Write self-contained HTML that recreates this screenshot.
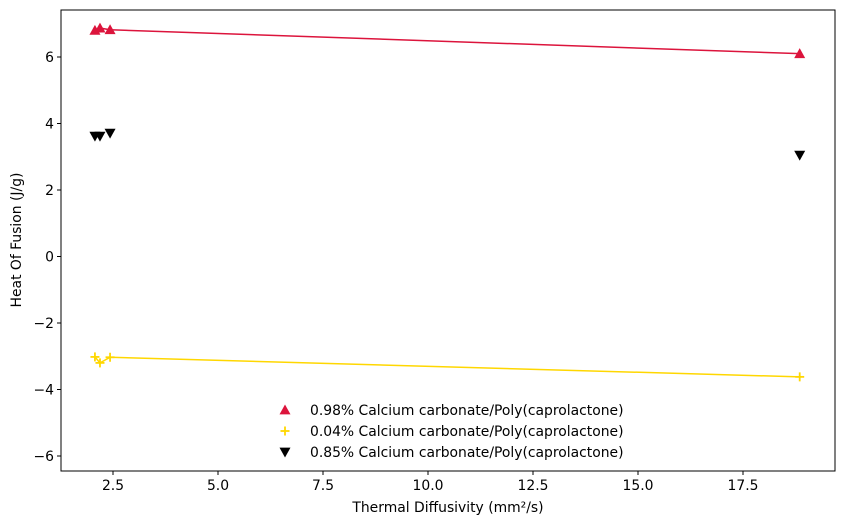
<!DOCTYPE html>
<html><head><meta charset="utf-8"><style>
body{margin:0;background:#fff;font-family:"Liberation Sans","DejaVu Sans",sans-serif;}
svg text{font-family:"DejaVu Sans","Liberation Sans",sans-serif;}
</style></head><body>
<svg id="c" width="844" height="525" xmlns="http://www.w3.org/2000/svg"></svg>
<script>
const xVals=[2.07,2.19,2.43,18.85];
const redVals=[6.8,6.87,6.82,6.1];
const yellowVals=[-3.02,-3.2,-3.03,-3.62];
const blackVals=[3.62,3.62,3.71,3.05];
const xTicks=[2.5,5.0,7.5,10.0,12.5,15.0,17.5];
const yTicks=[-6,-4,-2,0,2,4,6];
const legendLabels=["0.98% Calcium carbonate/Poly(caprolactone)","0.04% Calcium carbonate/Poly(caprolactone)","0.85% Calcium carbonate/Poly(caprolactone)"];
const L=61,R=835,T=10,B=471;
const FS=13.9;
const X=v=>8+42*v;
const Y=v=>256.5-33.25*v;
const NS="http://www.w3.org/2000/svg";
const svg=document.getElementById('c');
function mk(t,a,p){const e=document.createElementNS(NS,t);for(const k in a)e.setAttribute(k,a[k]);(p||svg).appendChild(e);return e;}
const frame=mk('rect',{x:L,y:T,width:R-L,height:B-T,fill:'none',stroke:'#000','stroke-width':1});


xTicks.forEach(v=>{
 const g=mk('g',{});
 
 
 mk('line',{x1:X(v),x2:X(v),y1:B,y2:B+4,stroke:'#000'},g);
 const t=mk('text',{x:X(v),y:B+19,'text-anchor':'middle','font-size':FS},g);t.textContent=v.toFixed(1);
});
yTicks.forEach(v=>{
 const g=mk('g',{});
 
 
 mk('line',{x1:L-4,x2:L,y1:Y(v),y2:Y(v),stroke:'#000'},g);
 const t=mk('text',{x:L-7,y:Y(v)+5,'text-anchor':'end','font-size':FS},g);t.textContent=v<0?'\u2212'+Math.abs(v):v;
});
const xt=mk('text',{x:448,y:512,'text-anchor':'middle','font-size':FS});xt.textContent='Thermal Diffusivity (mm\u00b2/s)';


const yt=mk('text',{x:21,y:240,'text-anchor':'middle','font-size':FS,transform:'rotate(-90 21 240)'});yt.textContent='Heat Of Fusion (J/g)';


function tri(cx,cy,up,col,p){const s=5.5;const pts=up?`${cx},${cy-s} ${cx-s},${cy+s*0.8} ${cx+s},${cy+s*0.8}`:`${cx},${cy+s} ${cx-s},${cy-s*0.8} ${cx+s},${cy-s*0.8}`;return mk('polygon',{points:pts,fill:col},p);}
function plus(cx,cy,col,p){const g=mk('g',{stroke:col,'stroke-width':1.8},p);mk('line',{x1:cx-4.5,x2:cx+4.5,y1:cy,y2:cy},g);mk('line',{x1:cx,x2:cx,y1:cy-4.5,y2:cy+4.5},g);return g;}
const rl=mk('polyline',{points:xVals.map((x,i)=>X(x)+','+Y(redVals[i])).join(' '),fill:'none',stroke:'#dc143c','stroke-width':1.5});


const yl=mk('polyline',{points:xVals.map((x,i)=>X(x)+','+Y(yellowVals[i])).join(' '),fill:'none',stroke:'#ffd700','stroke-width':1.5});


xVals.forEach((x,i)=>{
 const a=tri(X(x),Y(redVals[i]),true,'#dc143c');
 
 
 const b=plus(X(x),Y(yellowVals[i]),'#ffd700');
 
 
 const c=tri(X(x),Y(blackVals[i]),false,'#000');
 
 
});
const lg=mk('g',{});


legendLabels.forEach((lab,i)=>{
 const y=410+i*21;
 const e=mk('g',{},lg);
 
 
 if(i===0)tri(285,y,true,'#dc143c',e);else if(i===1)plus(285,y,'#ffd700',e);else tri(285,y,false,'#000',e);
 const t=mk('text',{x:310,y:y+5,'font-size':FS},e);t.textContent=lab;
});
</script>
</body></html>
